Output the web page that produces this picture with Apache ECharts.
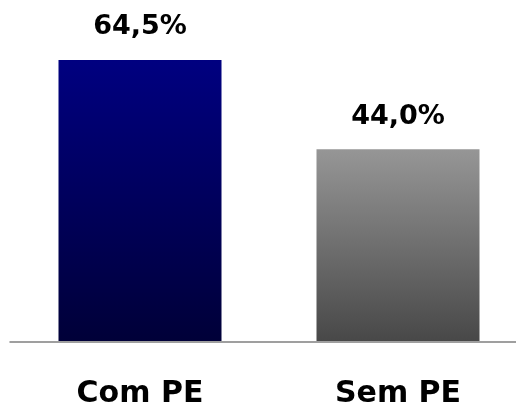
<!DOCTYPE html>
<html><head><meta charset="utf-8">
<script src="https://cdn.jsdelivr.net/npm/echarts@6/dist/echarts.min.js"></script>
<style>html,body{margin:0;padding:0;background:#fff}#c{width:516px;height:409px}</style>
</head><body><div id="c"></div>
<script>
const categories = ['Com PE', 'Sem PE'];
const values = [64.5, 44.0];
const labels = ['64,5%', '44,0%'];
const topColors = ['#000080', '#969696'];
const bottomColors = ['#000038', '#484848'];

const chart = echarts.init(document.getElementById('c'), null, {renderer: 'canvas'});
chart.setOption({
  animation: false,
  grid: [
    {left: 140, right: 118, top: 36, bottom: 67},
    {left: 10, right: 0, top: 36, bottom: 67}
  ],
  xAxis: [{
    type: 'category', data: categories, gridIndex: 0, boundaryGap: false,
    axisLine: {show: false},
    axisTick: {show: false},
    axisLabel: {margin: 38, color: '#000', fontSize: 30, fontWeight: 'bold', fontFamily: 'DejaVu Sans'}
  }, {
    type: 'value', gridIndex: 1, min: 0, max: 1,
    axisLine: {show: true, onZero: false, lineStyle: {color: '#808080', width: 1.5}},
    axisTick: {show: false}, axisLabel: {show: false}, splitLine: {show: false}
  }],
  yAxis: [
    {type: 'value', gridIndex: 0, min: 0, max: 70, show: false, splitLine: {show: false}},
    {type: 'value', gridIndex: 1, min: 0, max: 1, show: false, splitLine: {show: false}}
  ],
  series: [{
    type: 'bar', barWidth: 163, xAxisIndex: 0, yAxisIndex: 0, z: 1,
    data: values.map((v, i) => ({
      value: v,
      itemStyle: {color: new echarts.graphic.LinearGradient(0, 0, 0, 1, [
        {offset: 0, color: topColors[i]}, {offset: 1, color: bottomColors[i]}])}
    })),
    label: {
      show: true, position: 'top', distance: 19,
      formatter: p => labels[p.dataIndex],
      color: '#000', fontSize: 27, fontWeight: 'bold', fontFamily: 'DejaVu Sans'
    }
  }]
});
</script></body></html>
